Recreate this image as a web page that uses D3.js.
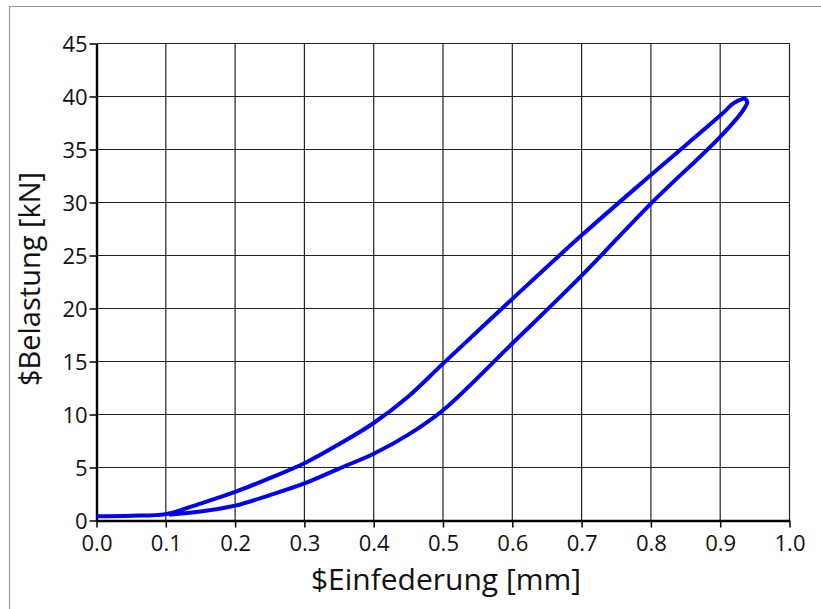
<!DOCTYPE html>
<html>
<head>
<meta charset="utf-8">
<script src="https://cdn.jsdelivr.net/npm/d3@7"></script>
<style>
  body { margin: 0; background: #fff; }
  svg text { font-family: "Open Sans", "Noto Sans", sans-serif; fill: #111; }
</style>
</head>
<body>
<div id="chart"></div>
<script>
// loading branch (upper) and unloading branch (lower)
var loadX   = [0.0, 0.05, 0.10, 0.15, 0.20, 0.25, 0.30, 0.35, 0.40, 0.45, 0.50, 0.60, 0.70, 0.80, 0.90, 0.92, 0.935];
var loadY   = [0.4, 0.45, 0.6,  1.6,  2.7,  4.0,  5.4,  7.2,  9.2,  11.7, 14.8, 20.9, 26.9, 32.6, 38.2, 39.4, 39.85];
var unloadX = [0.935, 0.939, 0.933, 0.90, 0.80, 0.70, 0.60, 0.50, 0.45, 0.40, 0.35, 0.30, 0.25, 0.20, 0.15, 0.105];
var unloadY = [39.85, 39.5,  38.7,  36.2, 29.9, 23.1, 16.7, 10.4, 8.1,  6.3,  4.9,  3.5,  2.4,  1.4,  0.85, 0.55];

var xTicks = [0, 0.1, 0.2, 0.3, 0.4, 0.5, 0.6, 0.7, 0.8, 0.9, 1.0];
var yTicks = [0, 5, 10, 15, 20, 25, 30, 35, 40, 45];
var xLabel = "$Einfederung [mm]";
var yLabel = "$Belastung [kN]";

var width = 821, height = 609;
var margin = {top: 43.5, right: 31.5, bottom: 88.5, left: 96.5};
var innerWidth = width - margin.left - margin.right;
var innerHeight = height - margin.top - margin.bottom;

var svg = d3.select("#chart").append("svg")
  .attr("width", width)
  .attr("height", height);

// outer frame of the figure (right and bottom edges lie outside the view)
svg.append("path")
  .attr("d", "M9.5," + height + "V6.5H" + width)
  .attr("fill", "none")
  .attr("stroke", "#9a9a9a")
  .attr("stroke-width", 1.2);

var g = svg.append("g")
  .attr("transform", "translate(" + margin.left + "," + margin.top + ")");

var x = d3.scaleLinear().domain([0, 1]).range([0, innerWidth]);
var y = d3.scaleLinear().domain([0, 45]).range([innerHeight, 0]);

// grid
g.append("g").selectAll("line")
  .data(xTicks.slice(1))
  .enter().append("line")
  .attr("x1", function(d) { return x(d); })
  .attr("x2", function(d) { return x(d); })
  .attr("y1", 0).attr("y2", innerHeight)
  .attr("stroke", "#222").attr("stroke-width", 1.2);

g.append("g").selectAll("line")
  .data(yTicks.slice(1))
  .enter().append("line")
  .attr("x1", 0).attr("x2", innerWidth)
  .attr("y1", function(d) { return y(d); })
  .attr("y2", function(d) { return y(d); })
  .attr("stroke", "#222").attr("stroke-width", 1.2);

// axes
var xAxis = g.append("g")
  .attr("transform", "translate(0," + innerHeight + ")")
  .call(d3.axisBottom(x).tickValues(xTicks).tickFormat(d3.format(".1f")).tickSize(7).tickSizeOuter(0));

var yAxis = g.append("g")
  .call(d3.axisLeft(y).tickValues(yTicks).tickSize(7).tickSizeOuter(0));

[xAxis, yAxis].forEach(function(a) {
  a.select(".domain").attr("stroke", "#000").attr("stroke-width", 2.4);
  a.selectAll(".tick line").attr("stroke", "#000").attr("stroke-width", 1.5);
  a.selectAll(".tick text")
    .attr("font-family", "'Open Sans', 'Noto Sans', sans-serif")
    .attr("font-size", 22)
    .attr("fill", "#111");
});
xAxis.selectAll(".tick text").attr("dy", "0.95em");
yAxis.selectAll(".tick text").attr("dx", "0.05em").attr("dy", "0.36em");

// axis titles
svg.append("text")
  .attr("x", 446)
  .attr("y", 590)
  .attr("text-anchor", "middle")
  .attr("font-size", 30)
  .text(xLabel);

svg.append("text")
  .attr("transform", "translate(40,279) rotate(-90)")
  .attr("text-anchor", "middle")
  .attr("font-size", 29)
  .text(yLabel);

// hysteresis loop
var pts = loadX.map(function(d, i) { return [d, loadY[i]]; })
  .concat(unloadX.map(function(d, i) { return [d, unloadY[i]]; }));

var line = d3.line()
  .x(function(d) { return x(d[0]); })
  .y(function(d) { return y(d[1]); })
  .curve(d3.curveCatmullRom.alpha(0.5));

g.append("path")
  .datum(pts)
  .attr("d", line)
  .attr("fill", "none")
  .attr("stroke", "#0000ee")
  .attr("stroke-width", 4)
  .attr("stroke-linejoin", "round");
</script>
</body>
</html>
